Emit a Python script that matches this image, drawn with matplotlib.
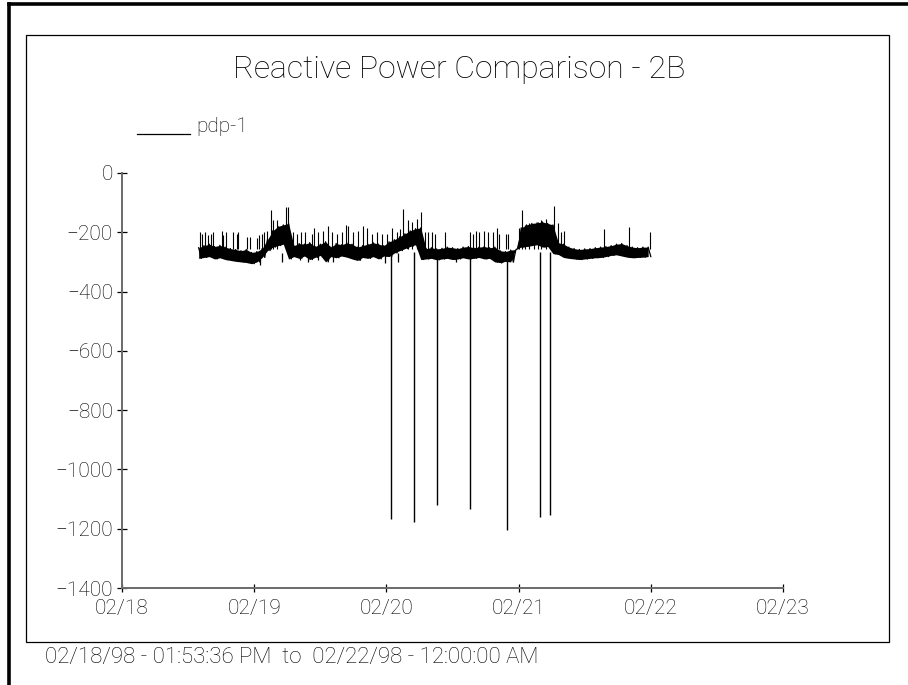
import matplotlib
matplotlib.use("Agg")
import matplotlib.pyplot as plt
from matplotlib.lines import Line2D
from matplotlib.patches import Rectangle
import numpy as np
import pandas as pd

# ---------------- data ----------------
title = "Reactive Power Comparison - 2B"
series_name = "pdp-1"
footer = "02/18/98 - 01:53:36 PM  to  02/22/98 - 12:00:00 AM"
x_tick_labels = ["02/18", "02/19", "02/20", "02/21", "02/22", "02/23"]
y_ticks = [0, -200, -400, -600, -800, -1000, -1200, -1400]

start_day = 0.58          # days after 02/18 00:00 of first sample
sample_step = 0.02        # days between samples of the dense band
band_values = [
    # 02/18 afternoon
    -252, -288, -245, -285, -240, -282, -248, -290, -244, -286, -250, -292,
    -255, -295, -258, -298, -262, -300, -258,
    -302, -268, -306, -265, -300, -255,
    -285, -225,
    # 02/19 early, elevated
    -262, -195, -250, -180, -245, -175, -240, -170,
    # 02/19 rest
    -290, -245, -282, -238, -288, -240, -280, -235, -292, -248, -285, -240,
    -278, -232, -300, -250, -282, -238, -286, -242, -280, -236, -284, -240,
    -290, -250, -295, -245, -285, -240, -288, -235, -282, -240, -290, -245,
    -280,
    # 02/20 early, elevated
    -232, -282, -225, -270, -215, -262, -205, -255, -195, -248, -188, -242,
    -185,
    # 02/20 rest
    -292, -255, -290, -252, -288, -256, -293, -254, -290, -250, -288, -252,
    -292, -255, -290, -250, -286, -248, -290, -252, -288, -250, -285, -248,
    -290, -252, -288, -250,
    -300, -262, -302, -265, -298, -260, -300, -258,
    # 02/21 early, elevated
    -255, -185, -250, -175, -248, -170, -245, -168, -242, -165, -250, -170,
    -248, -175,
    -272, -235, -275, -240,
    # 02/21 rest
    -285, -250, -288, -255, -290, -258, -292, -256, -290, -255, -288, -252,
    -286, -250, -285, -248, -282, -245, -278, -240, -276, -238, -280, -245,
    -284, -250, -286, -252, -285, -250, -284, -250, -282,
]

# short upward spikes: day offset, peak value
spike_days = [0.591, 0.606, 0.629, 0.652, 0.674, 0.689, 0.758, 0.765, 0.788,
              0.841, 0.871, 0.879, 0.947, 0.970, 1.023, 1.038, 1.061, 1.076,
              1.098, 1.129, 1.144, 1.174, 1.242, 1.258, 1.295, 1.326, 1.356,
              1.386, 1.439, 1.455, 1.485, 1.523, 1.561, 1.591, 1.629, 1.667,
              1.697, 1.712, 1.750, 1.788, 1.826, 1.856, 1.894, 1.932, 1.970,
              2.008, 2.045, 2.083, 2.106, 2.129, 2.167, 2.197, 2.235, 2.258,
              2.295, 2.318, 2.348, 2.371, 2.447, 2.629, 2.652, 2.674, 2.697,
              2.735, 2.765, 2.803, 2.833, 2.848, 2.902, 2.917, 3.000, 3.023,
              3.045, 3.076, 3.114, 3.144, 3.167, 3.205, 3.265, 3.295, 3.318,
              3.341, 3.644, 3.833, 3.992]
spike_vals = [-200, -205, -200, -210, -205, -200, -195, -210, -200,
              -200, -205, -200, -215, -215, -220, -210, -205, -200,
              -195, -125, -160, -160, -115, -115, -200, -205, -200,
              -200, -205, -185, -200, -195, -180, -200, -205, -200,
              -175, -180, -200, -195, -180, -185, -205, -200, -205,
              -205, -185, -200, -190, -120, -160, -165, -155, -130,
              -200, -200, -200, -205, -200, -200, -205, -195, -200,
              -195, -200, -200, -185, -205, -205, -205, -185, -125,
              -175, -170, -175, -165, -160, -155, -110, -170, -200,
              -195, -188, -182, -198]

# short downward excursions below the band
low_days = [1.045, 1.212, 1.348, 1.409, 1.485, 1.598, 1.803, 1.992, 2.091,
            2.523, 2.864, 2.955]
low_vals = [-310, -300, -295, -300, -295, -300, -295, -305, -300,
            -300, -305, -300]

# deep downward spikes
dip_days = [2.038, 2.212, 2.379, 2.636, 2.909, 3.159, 3.235]
dip_vals = [-1167, -1178, -1120, -1134, -1204, -1161, -1154]

# ---------------- figure ----------------
W, H = 908, 685
fig = plt.figure(figsize=(W / 100, H / 100), dpi=100)
FONT = "Roboto"
FW = "light"


def fx(px):
    return px / W


def fy(py):
    return 1 - py / H


# outer thick frame (left and top) and inner box
fig.add_artist(Line2D([fx(9), fx(9)], [fy(4), fy(H + 5)], color="black", lw=2.6))
fig.add_artist(Line2D([fx(9), fx(W + 5)], [fy(4), fy(4)], color="black", lw=2.6))
fig.add_artist(Rectangle((fx(26), fy(642)), fx(889) - fx(26), fy(35) - fy(642),
                         fill=False, edgecolor="black", lw=0.9))

ax = fig.add_axes([fx(122), fy(588), fx(783) - fx(122), fy(173) - fy(588)])

base = pd.Timestamp("1998-02-18")
band_t = base + pd.to_timedelta(start_day + sample_step * np.arange(len(band_values)), unit="D")
vals = np.array(band_values, dtype=float)
n = len(vals) // 2
ax.fill_between(band_t[0:2 * n:2], vals[0:2 * n:2], vals[1:2 * n:2],
                color="black", lw=0)
ax.plot(band_t, vals, color="black", lw=0.9)

sp_t = base + pd.to_timedelta(np.array(spike_days), unit="D")
ax.vlines(sp_t, -255, spike_vals, color="black", lw=0.8)
lo_t = base + pd.to_timedelta(np.array(low_days), unit="D")
ax.vlines(lo_t, -270, low_vals, color="black", lw=0.9)
dp_t = base + pd.to_timedelta(np.array(dip_days), unit="D")
ax.vlines(dp_t, -265, dip_vals, color="black", lw=1.0)

x_ticks = [base + pd.Timedelta(days=i) for i in range(len(x_tick_labels))]
ax.set_xlim(x_ticks[0], x_ticks[-1])
ax.set_ylim(-1400, 0)
ax.set_xticks(x_ticks)
ax.set_xticklabels(x_tick_labels)
ax.set_yticks(y_ticks)
ax.set_yticklabels([str(v).replace("-", "\u2212") for v in y_ticks])

for s in ["top", "right"]:
    ax.spines[s].set_visible(False)
for s in ["left", "bottom"]:
    ax.spines[s].set_color("#6a6a6a")
    ax.spines[s].set_linewidth(1.4)
ax.tick_params(axis="y", direction="inout", length=7, width=0.9, color="black", pad=3)
ax.tick_params(axis="x", direction="inout", length=6, width=0.9, color="black", pad=5)
for lab in ax.get_xticklabels() + ax.get_yticklabels():
    lab.set_family(FONT)
    lab.set_weight(FW)
    lab.set_fontsize(15)
ax.patch.set_alpha(0)

fig.text(fx(459), fy(70), title, ha="center", va="center", family=FONT, weight=FW, fontsize=23)
fig.add_artist(Line2D([fx(137), fx(190)], [fy(134), fy(134)], color="black", lw=0.9))
fig.text(fx(196), fy(127), series_name, ha="left", va="center", family=FONT, weight=FW, fontsize=15)
fig.text(fx(45), fy(658), footer, ha="left", va="center", family=FONT, weight=FW, fontsize=16)

fig.savefig("out.png", dpi=100)
